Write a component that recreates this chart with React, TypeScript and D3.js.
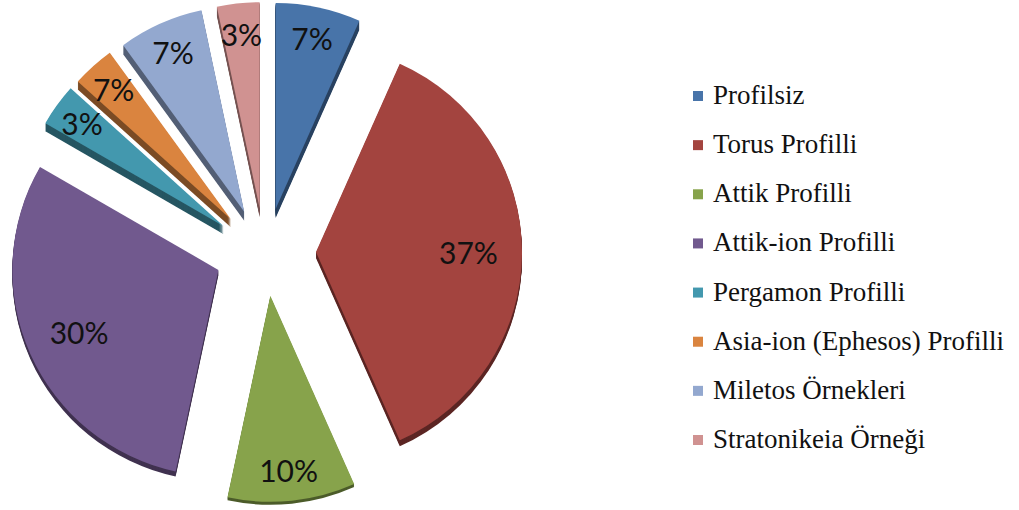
import React, { useEffect, useRef } from 'react'
import * as d3 from 'd3'

const categories = ['Profilsiz', 'Torus Profilli', 'Attik Profilli', 'Attik-ion Profilli', 'Pergamon Profilli', 'Asia-ion (Ephesos) Profilli', 'Miletos Örnekleri', 'Stratonikeia Örneği']
// slice sizes as drawn
const values = [2, 11, 3, 9, 1, 1, 2, 1]
// data labels as printed on the chart
const labels = ['7%', '37%', '10%', '30%', '3%', '7%', '7%', '3%']
const colors = ['#4874A9', '#A3443F', '#87A34B', '#71598E', '#4398AE', '#DA843F', '#93A8CF', '#D09291']

export default function App() {
    const ref = useRef<SVGSVGElement>(null)

    useEffect(() => {
        document.body.style.margin = '0'
        const svg = d3.select(ref.current)
        svg.selectAll('*').remove()

        const cx = 265, cy = 252, r = 206
        const ex = 51, ey = 44  // explode distance, x / y

        const pie = d3.pie<number>().sort(null).value(d => d)
        const arcs = pie(values)
        const arc = d3.arc<d3.PieArcDatum<number>>().innerRadius(0).outerRadius(r)

        const offset = (a: d3.PieArcDatum<number>) => {
            const mid = (a.startAngle + a.endAngle) / 2
            return [cx + ex * Math.sin(mid), cy - ey * Math.cos(mid), mid]
        }

        const g = svg.append('g')

        // sides first (thicker toward the back)
        arcs.forEach((a, i) => {
            const [ox, oy, mid] = offset(a)
            const depth = Math.round(6 + 3 * Math.cos(mid))
            const side = d3.color(colors[i])!.darker(1.6).formatHex()
            for (let k = depth; k >= 1; k--) {
                g.append('path')
                    .attr('d', arc(a))
                    .attr('transform', `translate(${ox},${oy + k})`)
                    .attr('fill', side)
            }
        })

        // tops
        arcs.forEach((a, i) => {
            const [ox, oy] = offset(a)
            g.append('path')
                .attr('d', arc(a))
                .attr('transform', `translate(${ox},${oy})`)
                .attr('fill', colors[i])
        })

        // labels
        arcs.forEach((a, i) => {
            const [ox, oy, mid] = offset(a)
            const span = a.endAngle - a.startAngle
            const lr = r * (span > Math.PI / 2 ? 0.74 : 0.85)
            g.append('text')
                .attr('x', ox + lr * Math.sin(mid))
                .attr('y', oy - lr * Math.cos(mid))
                .attr('text-anchor', 'middle')
                .attr('dominant-baseline', 'central')
                .style('font-family', 'Lato, "Open Sans", sans-serif')
                .style('font-size', '30px')
                .attr('fill', '#111')
                .text(labels[i])
        })

        // legend
        const y = d3.scalePoint<string>().domain(categories).range([96, 440])
        const leg = svg.append('g')
        categories.forEach((c, i) => {
            const yy = y(c)!
            leg.append('rect')
                .attr('x', 693).attr('y', yy - 5)
                .attr('width', 10).attr('height', 10)
                .attr('fill', colors[i])
            leg.append('text')
                .attr('x', 713).attr('y', yy + 8)
                .style('font-family', '"Liberation Serif", "Times New Roman", serif')
                .style('font-size', '27px')
                .attr('fill', '#111')
                .text(c)
        })
    }, [])

    return <svg ref={ref} width={1019} height={510} style={{ display: 'block', background: '#fff' }} />
}
